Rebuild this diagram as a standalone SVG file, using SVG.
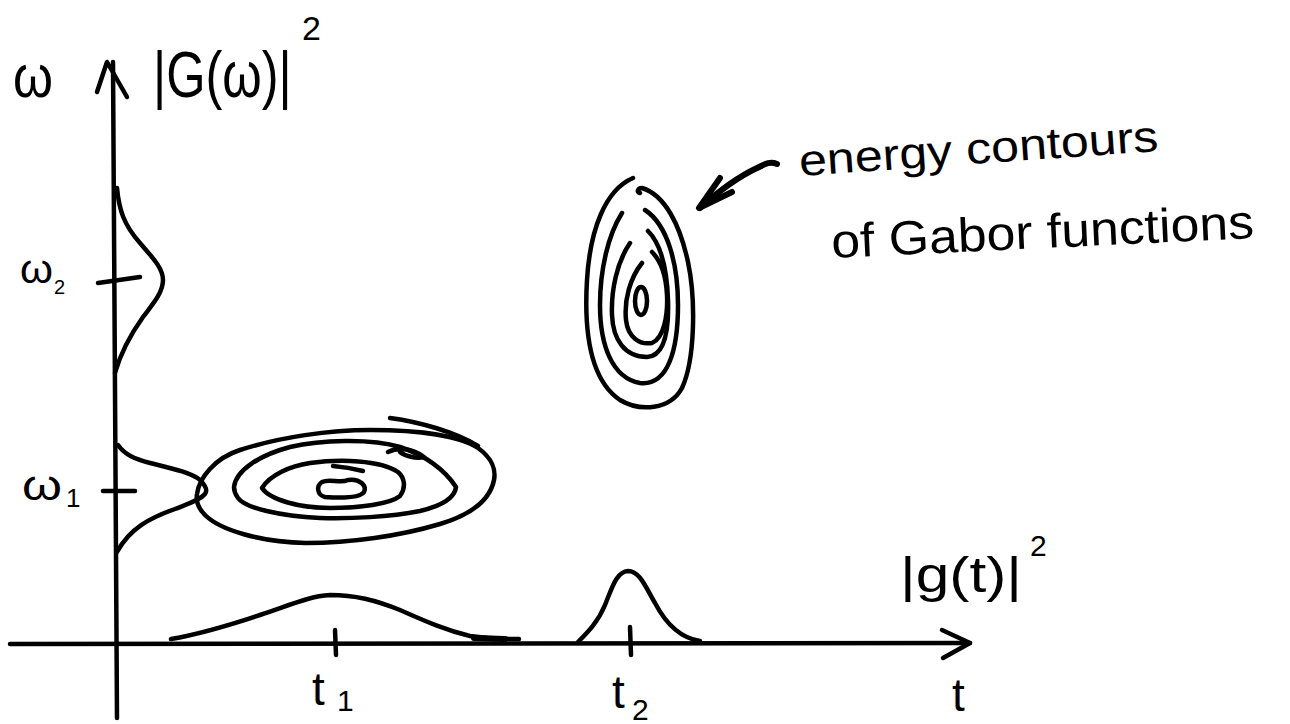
<svg xmlns="http://www.w3.org/2000/svg" width="1290" height="724" viewBox="0 0 1290 724">
<style>
.ln{fill:none;stroke:#000;stroke-width:4.5;stroke-linecap:round;stroke-linejoin:round}
.th{fill:none;stroke:#000;stroke-width:6;stroke-linecap:round;stroke-linejoin:round}
.tx{font-family:"Liberation Sans",Arial,sans-serif;fill:#000}
</style>
<rect width="1290" height="724" fill="#fff"/>
<g id="connectors">
  <path class="ln" d="M117,718 L113,62"/>
  <path class="ln" d="M97,92 L107,62 L127,97"/>
  <path class="ln" d="M10,644 L970,643"/>
  <path class="ln" d="M942,630 L970,643 L943,658"/>
  <path class="th" d="M777,164 C770,161 765,164 757,168 C740,176 720,190 700,208"/>
  <path class="th" d="M720,178 L699,208 L732,192"/>
</g>
<g id="ticks">
  <path class="ln" d="M335,630 L336,655"/>
  <path class="ln" d="M630,627 L631,655"/>
  <path class="ln" d="M98,283 L140,277"/>
  <path class="ln" d="M103,491 L135,491"/>
</g>
<g id="gauss-w2"><path class="ln" d="M117,188 C119,210 124,225 140,243 C152,257 163,268 163,280 C163,293 152,305 143,317 C133,331 122,348 115,373"/></g>
<g id="gauss-w1"><path class="ln" d="M118,445 C125,455 135,459 150,463 C170,468 190,472 200,480 C205,485 208,490 205,494 C200,500 190,503 175,509 C150,518 130,528 117,552"/></g>
<g id="gauss-t1">
  <path class="ln" d="M171,639 C200,634 230,625 260,615 C290,605 310,596 330,595 C355,595 375,600 400,610 C425,621 445,630 470,636 C490,639 505,639 519,639"/>
  <path class="th" d="M474,638 L505,639"/>
</g>
<g id="gauss-t2"><path class="ln" d="M578,642 C588,632 598,622 605,605 C612,588 616,572 628,571 C640,571 646,588 655,603 C665,622 680,638 700,641"/></g>
<g id="contours-t1">
  <path class="ln" d="M197,494 C199,478 215,458 240,450 C280,437 330,430 370,430 C420,430 460,436 478,448 C492,458 496,470 494,480 C490,500 470,515 440,524 C400,536 350,543 306,543 C260,542 220,530 205,515 C197,507 196,500 197,494 Z"/>
  <path class="ln" d="M390,418 C420,422 455,432 478,446"/>
  <path class="ln" d="M234,487 C236,470 260,455 290,447 C320,440 370,438 400,447 C425,455 445,470 456,487 C455,497 445,505 420,511 C390,517 350,519 320,518 C280,516 245,508 238,498 C235,494 234,490 234,487 Z"/>
  <path class="ln" d="M388,452 C398,447 412,448 424,457 C416,459 405,456 400,452"/>
  <path class="ln" d="M262,488 C270,475 290,466 310,463 C340,459 380,460 398,472 C405,478 406,488 400,496 C390,504 360,508 330,508 C300,508 270,500 262,488 Z"/>
  <path class="ln" d="M333,466 C345,467 355,469 363,471"/>
  <path class="ln" d="M322,482 C330,478 340,484 348,480 C360,478 367,486 364,492 C360,498 340,498 325,497 C317,495 316,486 322,482 Z"/>
</g>
<g id="contours-t2">
  <path class="ln" d="M633,178 C605,190 590,230 587,280 C584,330 590,380 620,400 C640,412 670,410 682,388 C695,360 696,300 688,262 C680,225 665,195 642,188 C638,188 636,192 640,193"/>
  <path class="ln" d="M622,213 C608,235 600,270 600,305 C600,345 612,378 640,383 C668,386 678,350 678,305 C678,265 668,225 645,210"/>
  <path class="ln" d="M630,243 C617,262 611,290 612,315 C613,340 625,357 647,357 C665,356 669,330 668,300 C667,270 662,245 648,231"/>
  <path class="ln" d="M642,263 C630,278 624,300 626,320 C628,338 640,345 652,343 C664,338 668,315 667,295 C666,275 660,260 652,252"/>
  <ellipse class="ln" cx="641" cy="301" rx="6" ry="14"/>
</g>
<g id="labels">
  <text class="tx" x="13" y="97" font-size="60" textLength="40" lengthAdjust="spacingAndGlyphs">ω</text>
  <text class="tx" font-size="64" transform="translate(153 97) scale(0.79 1)">|G(ω)|</text>
  <text class="tx" x="302" y="40" font-size="34">2</text>
  <text class="tx" x="20" y="283" font-size="40"><tspan textLength="33" lengthAdjust="spacingAndGlyphs">ω</tspan><tspan x="54" y="294" font-size="20">2</tspan></text>
  <text class="tx" x="22" y="500" font-size="42"><tspan textLength="40" lengthAdjust="spacingAndGlyphs">ω</tspan><tspan x="66" y="507" font-size="26">1</tspan></text>
  <text class="tx" x="312" y="705" font-size="46">t<tspan x="337" y="711" font-size="30">1</tspan></text>
  <text class="tx" x="612" y="708" font-size="46">t<tspan x="632" y="720" font-size="30">2</tspan></text>
  <text class="tx" x="952" y="711" font-size="46">t</text>
  <text class="tx" x="900" y="592" font-size="50"><tspan textLength="122" lengthAdjust="spacingAndGlyphs">|g(t)|</tspan><tspan x="1030" y="556" font-size="30">2</tspan></text>
  <text class="tx" x="800" y="176" font-size="44" transform="rotate(-4 800 176)" textLength="360" lengthAdjust="spacingAndGlyphs">energy contours</text>
  <text class="tx" x="832" y="258" font-size="48" transform="rotate(-2.7 832 258)" textLength="423" lengthAdjust="spacingAndGlyphs">of Gabor functions</text>
</g>
</svg>
